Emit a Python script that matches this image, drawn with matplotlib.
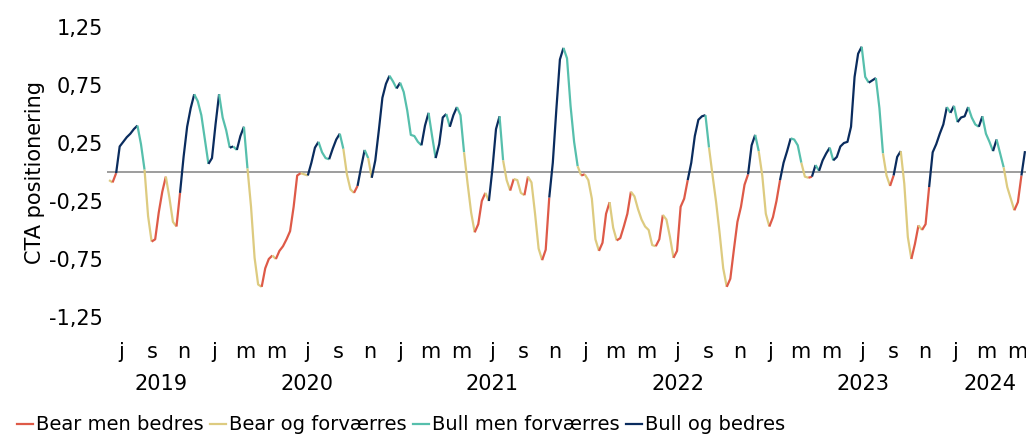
import numpy as np
import pandas as pd
import matplotlib
matplotlib.use('Agg')
import matplotlib.pyplot as plt
import matplotlib.transforms as mtransforms

# Ugentlige værdier (start 7. juni 2019)
start_date = '2019-06-07'
cta = [
    -0.07, -0.09, -0.01, 0.22, 0.26, 0.30, 0.33, 0.37, 0.40, 0.24,
    0.02, -0.38, -0.60, -0.58, -0.35, -0.17, -0.04, -0.22, -0.43, -0.47,
    -0.18, 0.13, 0.39, 0.55, 0.67, 0.61, 0.49, 0.28, 0.07, 0.12,
    0.41, 0.67, 0.47, 0.36, 0.21, 0.22, 0.19, 0.31, 0.39, 0.03,
    -0.30, -0.74, -0.97, -0.99, -0.83, -0.75, -0.72, -0.75, -0.68, -0.64,
    -0.58, -0.51, -0.30, -0.03, -0.01, -0.02, -0.03, 0.08, 0.21, 0.26,
    0.17, 0.12, 0.11, 0.20, 0.28, 0.33, 0.20, -0.02, -0.15, -0.18,
    -0.12, 0.04, 0.19, 0.12, -0.05, 0.10, 0.36, 0.64, 0.76, 0.83,
    0.78, 0.72, 0.77, 0.69, 0.53, 0.32, 0.31, 0.26, 0.23, 0.40,
    0.51, 0.31, 0.12, 0.24, 0.47, 0.50, 0.39, 0.49, 0.56, 0.49,
    0.17, -0.10, -0.35, -0.52, -0.45, -0.25, -0.18, -0.25, 0.03, 0.37,
    0.48, 0.10, -0.07, -0.16, -0.06, -0.07, -0.18, -0.20, -0.04, -0.09,
    -0.36, -0.66, -0.76, -0.67, -0.22, 0.08, 0.54, 0.97, 1.07, 0.98,
    0.57, 0.26, 0.05, -0.03, -0.02, -0.07, -0.23, -0.58, -0.68, -0.61,
    -0.36, -0.26, -0.48, -0.59, -0.57, -0.47, -0.36, -0.17, -0.21, -0.32,
    -0.41, -0.47, -0.50, -0.63, -0.64, -0.58, -0.37, -0.41, -0.56, -0.74,
    -0.68, -0.30, -0.23, -0.07, 0.08, 0.31, 0.45, 0.48, 0.49, 0.21,
    -0.03, -0.26, -0.53, -0.83, -0.99, -0.92, -0.67, -0.43, -0.30, -0.11,
    -0.02, 0.23, 0.32, 0.18, -0.03, -0.36, -0.47, -0.39, -0.25, -0.07,
    0.08, 0.18, 0.29, 0.28, 0.23, 0.08, -0.04, -0.05, -0.04, 0.06,
    0.01, 0.10, 0.16, 0.21, 0.10, 0.13, 0.22, 0.25, 0.26, 0.39,
    0.82, 1.02, 1.08, 0.82, 0.77, 0.79, 0.81, 0.55, 0.16, -0.03,
    -0.12, -0.03, 0.13, 0.18, -0.10, -0.56, -0.75, -0.62, -0.46, -0.50,
    -0.45, -0.13, 0.17, 0.24, 0.33, 0.41, 0.56, 0.51, 0.57, 0.43,
    0.47, 0.48, 0.56, 0.47, 0.41, 0.39, 0.48, 0.33, 0.26, 0.18,
    0.28, 0.16, 0.04, -0.13, -0.23, -0.33, -0.26, -0.03, 0.18,
]

regimes = ['Bear men bedres', 'Bear og forværres', 'Bull men forværres', 'Bull og bedres']
colors = ['#DE5A48', '#DDCB80', '#56BFAC', '#0A2C5E']
month_letters = {1: 'j', 3: 'm', 5: 'm', 7: 'j', 9: 's', 11: 'n'}
y_ticks = [-1.25, -0.75, -0.25, 0.25, 0.75, 1.25]

plt.rcParams['font.family'] = ['DejaVu Sans']

dates = pd.date_range(start_date, periods=len(cta), freq='7D')
v = np.array(cta)

# regime: fortegn + retning
diff = np.diff(v, prepend=v[0])
cat = np.where(v < 0, np.where(diff > 0, 0, 1), np.where(diff > 0, 3, 2))
cat[0] = cat[1]

fig = plt.figure(figsize=(10.26, 4.34), dpi=100)
ax = fig.add_axes([107 / 1026, 1 - 317 / 434, 1 - 107 / 1026, 290 / 434])

ax.axhline(0, color='#8c8c8c', lw=1.2, zorder=1)

# tegn hvert sammenhængende stykke i sin farve
s = 0
for i in range(1, len(v) + 1):
    if i == len(v) or cat[i] != cat[s]:
        lo = max(s - 1, 0)
        ax.plot(dates[lo:i], v[lo:i], color=colors[cat[s]], lw=1.6,
                solid_capstyle='butt', zorder=2)
        s = i

for r, c in zip(regimes, colors):
    ax.plot([], [], color=c, lw=1.6, label=r)

ax.set_ylim(-1.25, 1.25)
ax.set_xlim(dates[0] - pd.Timedelta(days=4), dates[-1] + pd.Timedelta(days=2))
ax.set_yticks(y_ticks)
ax.set_yticklabels([f'{t:.2f}'.replace('.', ',') for t in y_ticks], fontsize=15)

month_ticks = pd.date_range('2019-07-01', '2024-05-01', freq='2MS')
ax.set_xticks(month_ticks)
ax.set_xticklabels([month_letters[m.month] for m in month_ticks], fontsize=15)
ax.tick_params(axis='x', length=0, pad=18)
ax.tick_params(axis='y', length=0, pad=3)

for sp in ax.spines.values():
    sp.set_visible(False)

ax.set_ylabel('CTA positionering', fontsize=15, labelpad=3)

# årstal centreret over årets synlige periode
trans = mtransforms.blended_transform_factory(ax.transData, ax.transAxes)
for yr in sorted(set(dates.year)):
    a = max(dates[0], pd.Timestamp(f'{yr}-01-01'))
    b = min(dates[-1], pd.Timestamp(f'{yr}-12-31'))
    ax.text(a + (b - a) / 2, -0.232, str(yr), transform=trans,
            ha='center', va='center', fontsize=15)

fig.legend(loc='center left', bbox_to_anchor=(0.017, 0.021), ncol=4,
           frameon=False, fontsize=14, handlelength=0.8, handletextpad=0.15,
           columnspacing=0.35, borderaxespad=0, borderpad=0)

fig.savefig('out.png', dpi=100)
